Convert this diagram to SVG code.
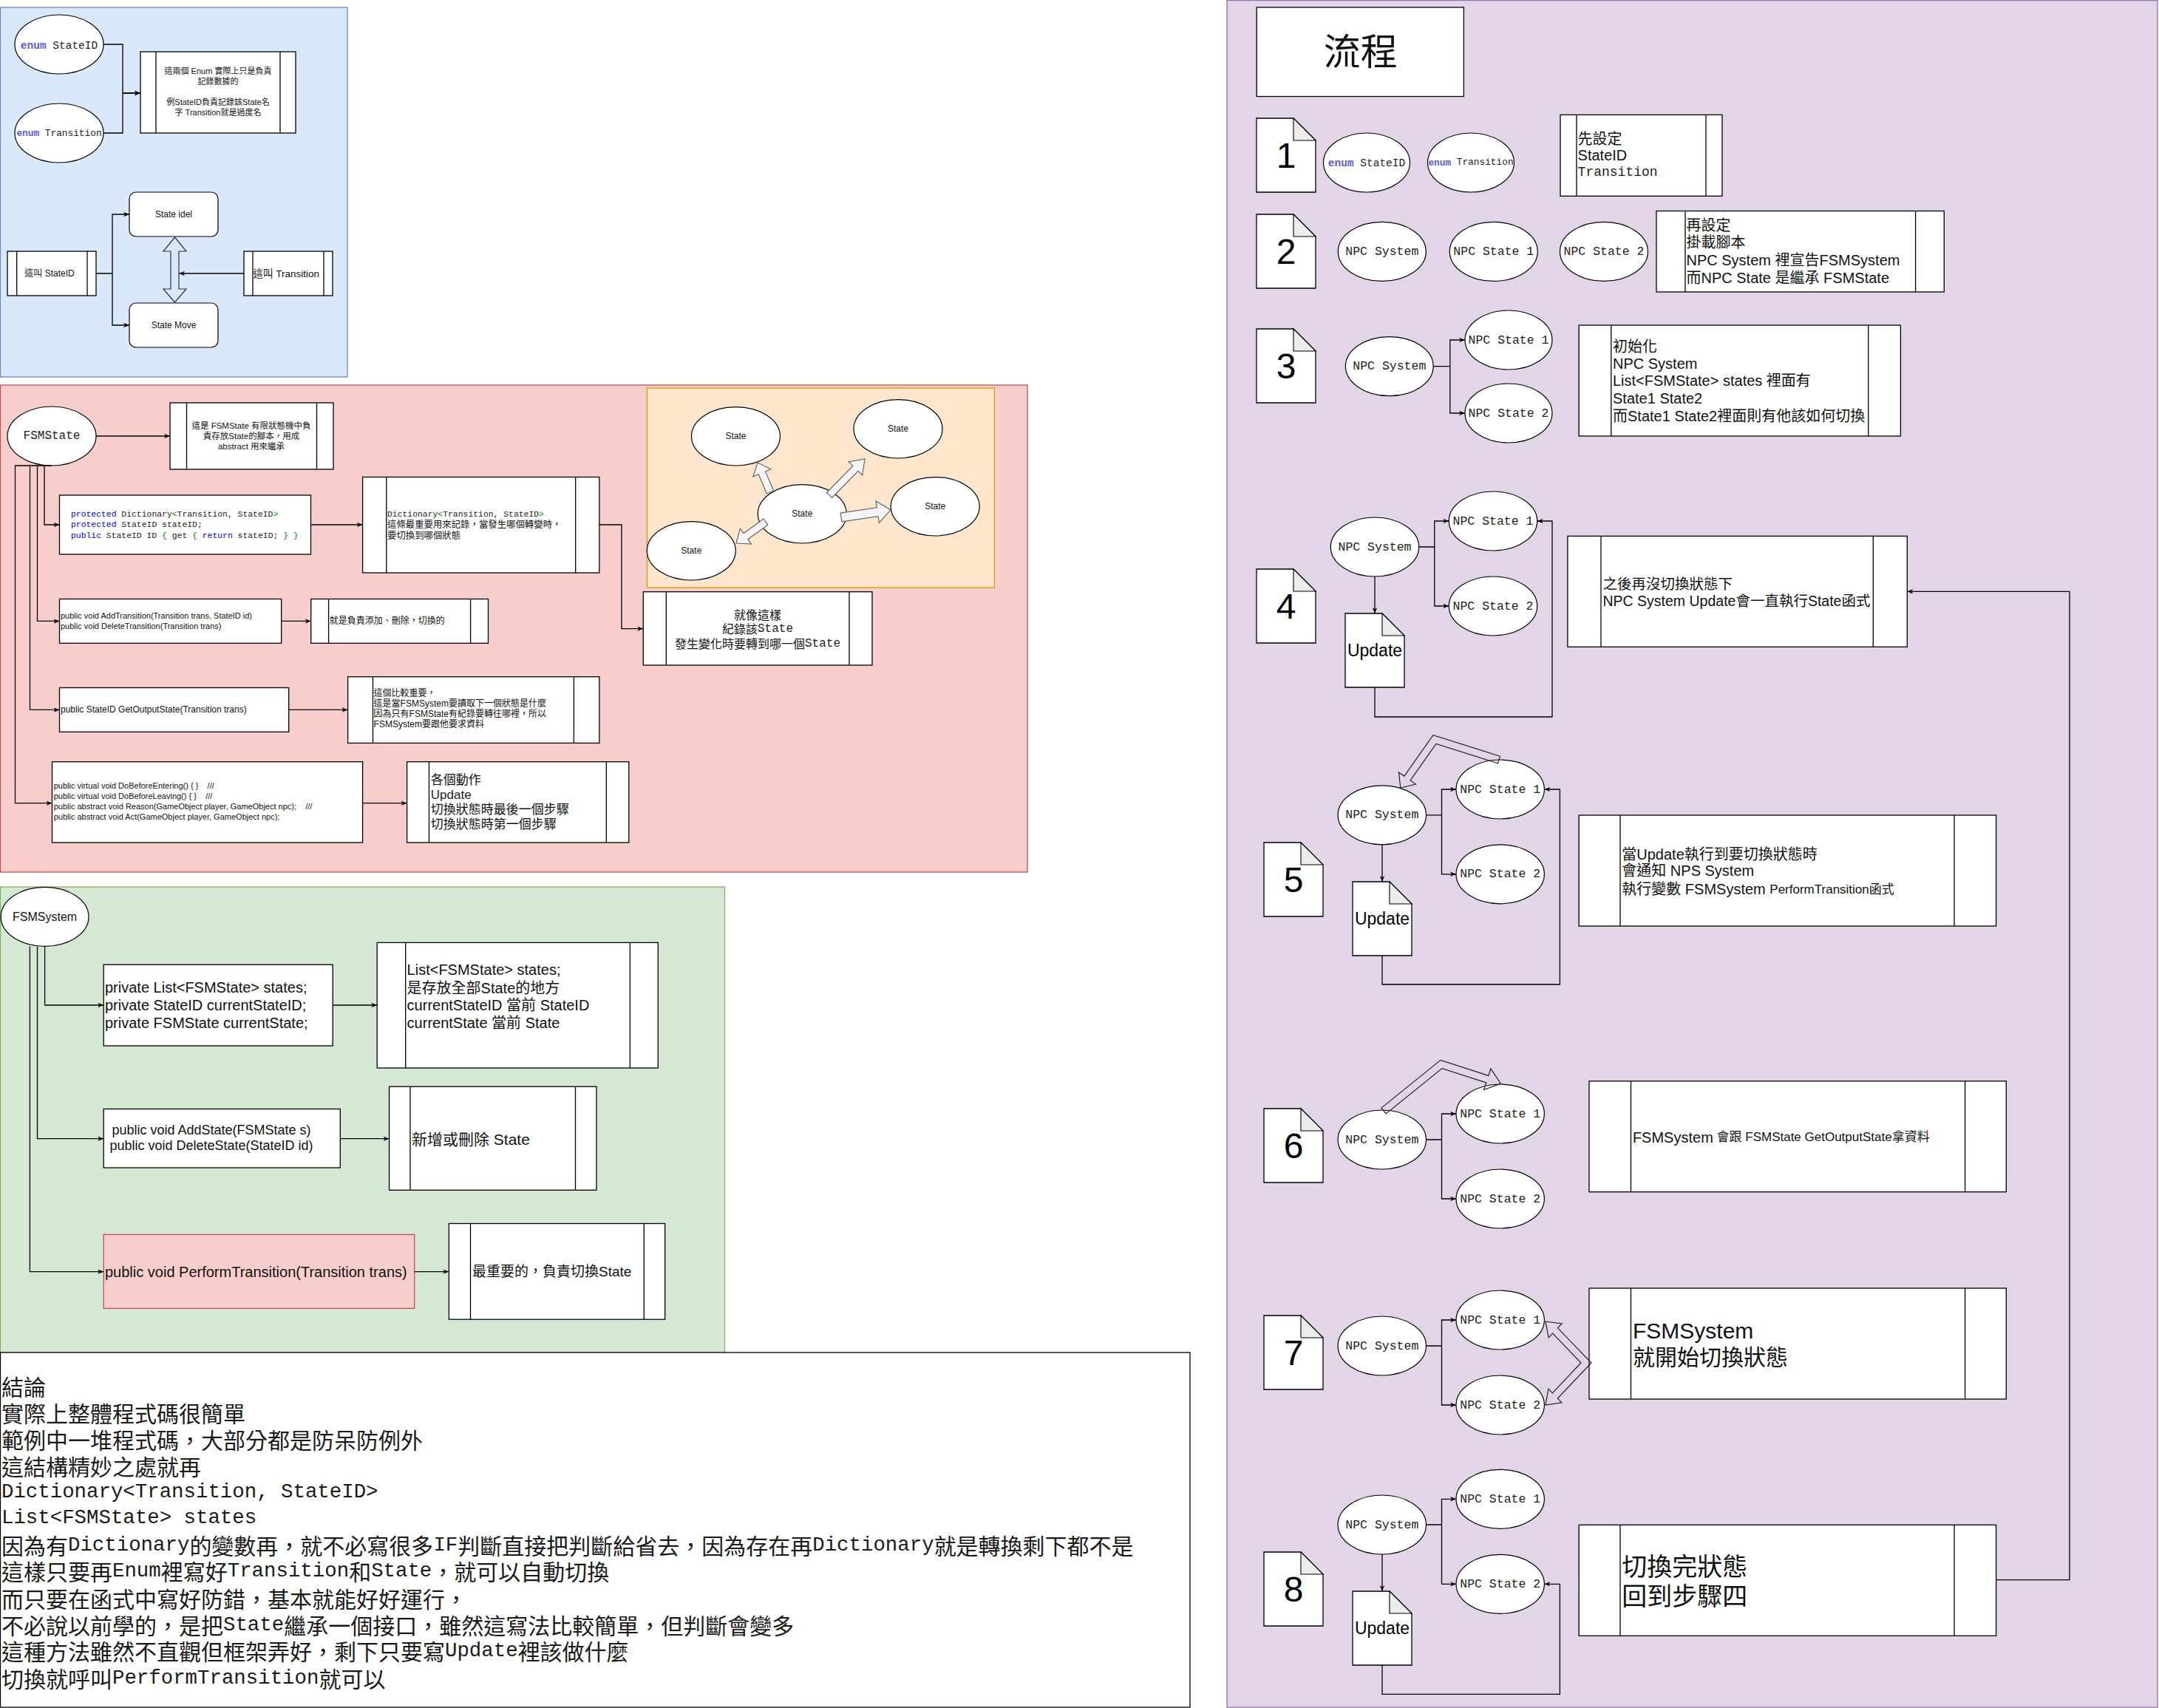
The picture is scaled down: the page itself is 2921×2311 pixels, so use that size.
<svg xmlns="http://www.w3.org/2000/svg" width="2921" height="2311" viewBox="0 0 2921 2311">
<style>
text{dominant-baseline:central}
.s{font-family:"Liberation Sans","Noto Sans CJK TC",sans-serif;fill:#111}
.m{font-family:"Liberation Mono","Noto Sans CJK TC",monospace;fill:#222}
.box{fill:#fff;stroke:#000;stroke-width:1.3}
.in{stroke:#000;stroke-width:1.3}
.ell{fill:#fff;stroke:#000;stroke-width:1.2}
.edge{fill:none;stroke:#000;stroke-width:1.3;marker-end:url(#arr)}
.line{fill:none;stroke:#000;stroke-width:1.3}
.note{fill:#fff;stroke:#000;stroke-width:1.3}
.fold{fill:#ececec;stroke:#000;stroke-width:1.1}
.barr{fill:#f5f5f5;stroke:#666;stroke-width:1.2}
.parr{fill:none;stroke:#222;stroke-width:1.2}
.kw{fill:#0000ff}
.gr{fill:#008800}
.en{fill:#5b5bd6;font-weight:bold}
.c{font-family:"Noto Sans CJK TC","Liberation Sans",sans-serif;font-size:30px;fill:#1a1a1a}
.cm{font-family:"Liberation Mono",monospace;font-size:27.4px}
.num{font-family:"Liberation Sans",sans-serif;font-size:48px;fill:#000;text-anchor:middle}
.npc{font-family:"Liberation Mono",monospace;font-size:16.5px;fill:#222;text-anchor:middle}
.upd{font-family:"Liberation Sans",sans-serif;font-size:23px;fill:#000;text-anchor:middle}
</style>
<defs>
<marker id="arr" viewBox="0 0 10 10" refX="10" refY="5" markerWidth="8" markerHeight="8" markerUnits="userSpaceOnUse" orient="auto"><path d="M0,1 L10,5 L0,9 L3,5 Z" fill="#000"/></marker>
</defs>

<g id="regions">
<rect x="0.5" y="10" width="469.5" height="500" fill="#dae8fc" stroke="#6c8ebf" stroke-width="1.3"/>
<rect x="0.5" y="521" width="1389.5" height="659" fill="#f8cecc" stroke="#b85450" stroke-width="1.3"/>
<rect x="875.5" y="525" width="470" height="270" fill="#ffe6cc" stroke="#d79b00" stroke-width="1.3"/>
<rect x="0.5" y="1200" width="980" height="630" fill="#d5e8d4" stroke="#82b366" stroke-width="1.3"/>
<rect x="1660" y="0.5" width="1259" height="2309.5" fill="#e1d5e7" stroke="#9673a6" stroke-width="1.3"/>
</g>

<!-- Blue section -->
<g id="enum-stateid"><ellipse class="ell" cx="80" cy="60" rx="60" ry="40"/><text class="m" x="80" y="62" font-size="14.5" text-anchor="middle"><tspan class="en">enum</tspan> StateID</text></g>
<g id="enum-transition"><ellipse class="ell" cx="80" cy="180" rx="60" ry="40"/><text class="m" x="80" y="180" font-size="12.8" text-anchor="middle"><tspan class="en" font-weight="normal">enum</tspan> Transition</text></g>
<g id="enum-note"><rect class="box" x="190" y="70" width="210" height="110"/><line class="in" x1="211" y1="70" x2="211" y2="180"/><line class="in" x1="379" y1="70" x2="379" y2="180"/>
<text class="s" font-size="11" text-anchor="middle"><tspan x="295" y="96">這兩個 Enum 實際上只是負責</tspan><tspan x="295" y="110">記錄數據的</tspan><tspan x="295" y="138">例StateID負責記錄該State名</tspan><tspan x="295" y="152">字 Transition就是過度名</tspan></text></g>
<g id="state-idel"><rect x="175" y="260" width="120" height="60" rx="9" fill="#fff" stroke="#000" stroke-width="1.2"/><text class="s" x="235" y="290" font-size="12" text-anchor="middle" fill="#333">State idel</text></g>
<g id="state-move"><rect x="175" y="410" width="120" height="60" rx="9" fill="#fff" stroke="#000" stroke-width="1.2"/><text class="s" x="235" y="440" font-size="12" text-anchor="middle" fill="#333">State Move</text></g>
<g id="label-stateid"><rect class="box" x="10" y="340" width="120" height="60"/><line class="in" x1="22.7" y1="340" x2="22.7" y2="400"/><line class="in" x1="118" y1="340" x2="118" y2="400"/><text class="s" x="67" y="370" font-size="12" text-anchor="middle">這叫 StateID</text></g>
<g id="label-transition"><rect class="box" x="330" y="340" width="120" height="60"/><line class="in" x1="342" y1="340" x2="342" y2="400"/><line class="in" x1="438" y1="340" x2="438" y2="400"/><text class="s" x="342.5" y="370" font-size="13.5">這叫 Transition</text></g>

<!-- Red section -->
<g id="fsmstate"><ellipse class="ell" cx="70" cy="590" rx="60" ry="40"/><text class="m" x="70" y="590" font-size="16" text-anchor="middle" fill="#333">FSMState</text></g>
<g id="fsmstate-note"><rect class="box" x="230" y="545" width="221" height="90"/><line class="in" x1="252.5" y1="545" x2="252.5" y2="635"/><line class="in" x1="428.5" y1="545" x2="428.5" y2="635"/>
<text class="s" font-size="11.5" text-anchor="middle"><tspan x="340" y="575.6">這是 FSMState 有限狀態機中負</tspan><tspan x="340" y="590">責存放State的腳本，用成</tspan><tspan x="340" y="604">abstract 用來繼承</tspan></text></g>
<g id="code-dict"><rect class="box" x="80.5" y="670" width="340" height="80"/>
<text class="m" font-size="11.4" fill="#333"><tspan x="96" y="696"><tspan class="kw">protected</tspan> Dictionary<tspan class="gr">&lt;</tspan>Transition, StateID<tspan class="gr">&gt;</tspan></tspan><tspan x="96" y="710"><tspan class="kw">protected</tspan> StateID stateID;</tspan><tspan x="96" y="724.6"><tspan class="kw">public</tspan> StateID ID <tspan class="gr">{</tspan> get <tspan class="gr">{</tspan> <tspan class="kw">return</tspan> stateID; <tspan class="gr">}</tspan> <tspan class="gr">}</tspan></tspan></text></g>
<g id="dict-note"><rect class="box" x="490.6" y="645.5" width="320.3" height="129.5"/><line class="in" x1="522.8" y1="645.5" x2="522.8" y2="775"/><line class="in" x1="778.7" y1="645.5" x2="778.7" y2="775"/>
<text class="m" x="524" y="696" font-size="11.4" fill="#333">Dictionary<tspan class="gr">&lt;</tspan>Transition, StateID<tspan class="gr">&gt;</tspan></text>
<text class="s" font-size="12.4" fill="#009900"><tspan x="524" y="710">這條最重要用來記錄，當發生哪個轉變時，</tspan><tspan x="524" y="724.6">要切換到哪個狀態</tspan></text></g>
<g id="like-this"><rect class="box" x="870.3" y="800.7" width="309.7" height="99.3"/><line class="in" x1="901.3" y1="800.7" x2="901.3" y2="900"/><line class="in" x1="1149" y1="800.7" x2="1149" y2="900"/>
<text class="s" font-size="16" text-anchor="middle" fill="#333"><tspan x="1025" y="831.7">就像這樣</tspan><tspan x="1025" y="850.7">紀錄該<tspan class="m" fill="#333">State</tspan></tspan><tspan x="1025" y="870.7">發生變化時要轉到哪一個<tspan class="m" fill="#333">State</tspan></tspan></text></g>
<g id="state-c"><ellipse class="ell" cx="1085.3" cy="695.3" rx="60" ry="39.7"/><text class="s" x="1085.3" y="695.3" font-size="12" text-anchor="middle">State</text></g>
<g id="state-1"><ellipse class="ell" cx="995.5" cy="590.3" rx="60" ry="39.7"/><text class="s" x="995.5" y="590.3" font-size="12" text-anchor="middle">State</text></g>
<g id="state-2"><ellipse class="ell" cx="1215" cy="580.3" rx="60" ry="39.7"/><text class="s" x="1215" y="580.3" font-size="12" text-anchor="middle">State</text></g>
<g id="state-3"><ellipse class="ell" cx="1265.2" cy="685.3" rx="60" ry="39.7"/><text class="s" x="1265.2" y="685.3" font-size="12" text-anchor="middle">State</text></g>
<g id="state-4"><ellipse class="ell" cx="935.3" cy="745.3" rx="60" ry="39.7"/><text class="s" x="935.3" y="745.3" font-size="12" text-anchor="middle">State</text></g>
<g id="addtrans"><rect class="box" x="80.5" y="810.5" width="300.2" height="59.8"/><text class="s" font-size="11"><tspan x="82" y="832.8">public void AddTransition(Transition trans, StateID id)</tspan><tspan x="82" y="846.7">public void DeleteTransition(Transition trans)</tspan></text></g>
<g id="addtrans-note"><rect class="box" x="420.7" y="810.5" width="239.8" height="59.8"/><line class="in" x1="444.6" y1="810.5" x2="444.6" y2="870.3"/><line class="in" x1="636.6" y1="810.5" x2="636.6" y2="870.3"/><text class="s" x="445.7" y="840.4" font-size="12">就是負責添加、刪除，切換的</text></g>
<g id="getoutput"><rect class="box" x="80.5" y="930.5" width="310.2" height="59.8"/><text class="s" x="82" y="960.4" font-size="12">public StateID GetOutputState(Transition trans)</text></g>
<g id="getoutput-note"><rect class="box" x="470.6" y="915.7" width="340.3" height="89.7"/><line class="in" x1="504.5" y1="915.7" x2="504.5" y2="1005.4"/><line class="in" x1="776.4" y1="915.7" x2="776.4" y2="1005.4"/>
<text class="s" font-size="12"><tspan x="505.6" y="938">這個比較重要，</tspan><tspan x="505.6" y="952">這是當FSMSystem要讀取下一個狀態是什麼</tspan><tspan x="505.6" y="966">因為只有FSMState有紀錄要轉往哪裡，所以</tspan><tspan x="505.6" y="980">FSMSystem要跟他要求資料</tspan></text></g>
<g id="virtuals"><rect class="box" x="70.5" y="1030.7" width="420.1" height="109.3"/><text class="s" font-size="11"><tspan x="72.7" y="1063" xml:space="preserve">public virtual void DoBeforeEntering() { }    ///</tspan><tspan x="72.7" y="1077" xml:space="preserve">public virtual void DoBeforeLeaving() { }    ///</tspan><tspan x="72.7" y="1091" xml:space="preserve">public abstract void Reason(GameObject player, GameObject npc);    ///</tspan><tspan x="72.7" y="1105">public abstract void Act(GameObject player, GameObject npc);</tspan></text></g>
<g id="virtuals-note"><rect class="box" x="550.6" y="1030.7" width="300.2" height="109.3"/><line class="in" x1="580.5" y1="1030.7" x2="580.5" y2="1140"/><line class="in" x1="820.3" y1="1030.7" x2="820.3" y2="1140"/>
<text class="s" font-size="17" fill="#444"><tspan x="582.8" y="1054.7">各個動作</tspan><tspan x="582.8" y="1074.9" fill="#222">Update</tspan><tspan x="582.8" y="1095">切換狀態時最後一個步驟</tspan><tspan x="582.8" y="1115.3">切換狀態時第一個步驟</tspan></text></g>

<!-- Green section -->
<g id="fsmsystem"><ellipse class="ell" cx="60.6" cy="1240.4" rx="59.4" ry="40"/><text class="s" x="60.6" y="1240.4" font-size="16" text-anchor="middle" fill="#222">FSMSystem</text></g>
<g id="fields"><rect class="box" x="140.2" y="1305.2" width="310" height="109.8"/><text class="s" font-size="20"><tspan x="142" y="1335.9">private List&lt;FSMState&gt; states;</tspan><tspan x="142" y="1360">private StateID currentStateID;</tspan><tspan x="142" y="1384">private FSMState currentState;</tspan></text></g>
<g id="fields-note"><rect class="box" x="510.2" y="1275.4" width="380.1" height="169.6"/><line class="in" x1="548.7" y1="1275.4" x2="548.7" y2="1445"/><line class="in" x1="852.4" y1="1275.4" x2="852.4" y2="1445"/>
<text class="s" font-size="20"><tspan x="550.6" y="1312.3">List&lt;FSMState&gt; states;</tspan><tspan x="550.6" y="1336.7">是存放全部State的地方</tspan><tspan x="550.6" y="1360.4">currentStateID 當前 StateID</tspan><tspan x="550.6" y="1384.4">currentState 當前 State</tspan></text></g>
<g id="addstate"><rect class="box" x="140.2" y="1500.5" width="320.1" height="79.5"/><text class="s" font-size="18" text-anchor="middle"><tspan x="286" y="1529">public void AddState(FSMState s)</tspan><tspan x="286" y="1549.8">public void DeleteState(StateID id)</tspan></text></g>
<g id="addstate-note"><rect class="box" x="526.6" y="1470.2" width="280.4" height="140.1"/><line class="in" x1="555" y1="1470.2" x2="555" y2="1610.3"/><line class="in" x1="778.5" y1="1470.2" x2="778.5" y2="1610.3"/><text class="s" x="557" y="1541.5" font-size="21">新增或刪除 State</text></g>
<g id="perform"><rect x="140.2" y="1670.4" width="420.5" height="99.9" fill="#f8cecc" stroke="#b85450" stroke-width="1.3"/><text class="s" x="142" y="1720.6" font-size="20">public void PerformTransition(Transition trans)</text></g>
<g id="perform-note"><rect class="box" x="607.4" y="1655.5" width="292.3" height="129.7"/><line class="in" x1="636.5" y1="1655.5" x2="636.5" y2="1785.2"/><line class="in" x1="871.3" y1="1655.5" x2="871.3" y2="1785.2"/><text class="s" x="639" y="1720.6" font-size="19">最重要的，負責切換State</text></g>

<!-- Conclusion -->
<g id="conclusion"><rect x="0.5" y="1830" width="1609.5" height="480" fill="#fff" stroke="#000" stroke-width="1.3"/>
<text class="c" x="2" y="1875">結論</text>
<text class="c" x="2" y="1911">實際上整體程式碼很簡單</text>
<text class="c" x="2" y="1947">範例中一堆程式碼，大部分都是防呆防例外</text>
<text class="c" x="2" y="1983">這結構精妙之處就再</text>
<text class="c" x="2" y="2018"><tspan class="cm">Dictionary&lt;Transition, StateID&gt;</tspan></text>
<text class="c" x="2" y="2053"><tspan class="cm">List&lt;FSMState&gt; states</tspan></text>
<text class="c" x="2" y="2090">因為有<tspan class="cm">Dictionary</tspan>的變數再，就不必寫很多<tspan class="cm">IF</tspan>判斷直接把判斷給省去，因為存在再<tspan class="cm">Dictionary</tspan>就是轉換剩下都不是</text>
<text class="c" x="2" y="2125">這樣只要再<tspan class="cm">Enum</tspan>裡寫好<tspan class="cm">Transition</tspan>和<tspan class="cm">State</tspan>，就可以自動切換</text>
<text class="c" x="2" y="2162">而只要在函式中寫好防錯，基本就能好好運行，</text>
<text class="c" x="2" y="2198">不必說以前學的，是把<tspan class="cm">State</tspan>繼承一個接口，雖然這寫法比較簡單，但判斷會變多</text>
<text class="c" x="2" y="2233">這種方法雖然不直觀但框架弄好，剩下只要寫<tspan class="cm">Update</tspan>裡該做什麼</text>
<text class="c" x="2" y="2270">切換就呼叫<tspan class="cm">PerformTransition</tspan>就可以</text>
</g>

<!-- Purple section -->
<g id="flow-title"><rect class="box" x="1700.2" y="9.9" width="280.2" height="120.6"/><text class="s" x="1840.7" y="71" font-size="50" text-anchor="middle" fill="#222">流程</text></g>

<g id="step1"><path class="note" d="M1700,160 H1750 L1780,190 V260 H1700 Z"/><path class="fold" d="M1750,160 V190 H1780 Z"/><text class="num" x="1740" y="210">1</text></g>
<g id="s1-enum-stateid"><ellipse class="ell" cx="1849" cy="220" rx="58.5" ry="40"/><text class="m" x="1849" y="221" font-size="14.5" text-anchor="middle"><tspan class="en">enum</tspan> StateID</text></g>
<g id="s1-enum-transition"><ellipse class="ell" cx="1990" cy="220" rx="58.5" ry="40"/><text class="m" x="1990" y="219.5" font-size="12.8" text-anchor="middle"><tspan class="en" font-weight="normal">enum</tspan> Transition</text></g>
<g id="s1-note"><rect class="box" x="2111" y="155.4" width="219" height="109.9"/><line class="in" x1="2133" y1="155.4" x2="2133" y2="265.3"/><line class="in" x1="2308" y1="155.4" x2="2308" y2="265.3"/>
<text class="s" font-size="20"><tspan x="2134.6" y="187.8">先設定</tspan><tspan x="2134.6" y="210.3">StateID</tspan></text><text class="m" x="2134.6" y="233.3" font-size="18" fill="#111">Transition</text></g>

<g id="step2"><path class="note" d="M1700,290 H1750 L1780,320 V390 H1700 Z"/><path class="fold" d="M1750,290 V320 H1780 Z"/><text class="num" x="1740" y="340">2</text></g>
<g id="s2-system"><ellipse class="ell" cx="1869.8" cy="340.4" rx="59.5" ry="40"/><text class="npc" x="1869.8" y="340.4">NPC System</text></g>
<g id="s2-state1"><ellipse class="ell" cx="2020.8" cy="340.4" rx="59.5" ry="40"/><text class="npc" x="2020.8" y="340.4">NPC State 1</text></g>
<g id="s2-state2"><ellipse class="ell" cx="2170" cy="340.4" rx="59.5" ry="40"/><text class="npc" x="2170" y="340.4">NPC State 2</text></g>
<g id="s2-note"><rect class="box" x="2241" y="285.5" width="389.3" height="109.5"/><line class="in" x1="2280" y1="285.5" x2="2280" y2="395"/><line class="in" x1="2591.6" y1="285.5" x2="2591.6" y2="395"/>
<text class="s" font-size="20"><tspan x="2281.5" y="304.5">再設定</tspan><tspan x="2281.5" y="328">掛載腳本</tspan><tspan x="2281.5" y="352">NPC System 裡宣告FSMSystem</tspan><tspan x="2281.5" y="375.6">而NPC State 是繼承 FSMState</tspan></text></g>

<g id="step3"><path class="note" d="M1700,445 H1750 L1780,475 V545 H1700 Z"/><path class="fold" d="M1750,445 V475 H1780 Z"/><text class="num" x="1740" y="495">3</text></g>
<g id="s3-system"><ellipse class="ell" cx="1879.8" cy="495.6" rx="59.4" ry="40"/><text class="npc" x="1879.8" y="495.6">NPC System</text></g>
<g id="s3-state1"><ellipse class="ell" cx="2041" cy="460" rx="59" ry="40"/><text class="npc" x="2041" y="460">NPC State 1</text></g>
<g id="s3-state2"><ellipse class="ell" cx="2041" cy="559" rx="59" ry="40"/><text class="npc" x="2041" y="559">NPC State 2</text></g>
<g id="s3-note"><rect class="box" x="2136.2" y="440" width="435.2" height="150"/><line class="in" x1="2179.8" y1="440" x2="2179.8" y2="590"/><line class="in" x1="2527.8" y1="440" x2="2527.8" y2="590"/>
<text class="s" font-size="20"><tspan x="2182" y="468.5">初始化</tspan><tspan x="2182" y="491.5">NPC System</tspan><tspan x="2182" y="515.2">List&lt;FSMState&gt; states 裡面有</tspan><tspan x="2182" y="538.5">State1 State2</tspan><tspan x="2182" y="563.4">而State1 State2裡面則有他該如何切換</tspan></text></g>

<g id="step4"><path class="note" d="M1700,770 H1750 L1780,800 V870 H1700 Z"/><path class="fold" d="M1750,770 V800 H1780 Z"/><text class="num" x="1740" y="820">4</text></g>
<g id="s4-system"><ellipse class="ell" cx="1860" cy="740" rx="59.75" ry="40"/><text class="npc" x="1860" y="740">NPC System</text></g>
<g id="s4-state1"><ellipse class="ell" cx="2020" cy="705" rx="59.75" ry="40"/><text class="npc" x="2020" y="705">NPC State 1</text></g>
<g id="s4-state2"><ellipse class="ell" cx="2020" cy="820" rx="59.75" ry="40"/><text class="npc" x="2020" y="820">NPC State 2</text></g>
<g id="s4-update"><path class="note" d="M1820,830 H1870 L1900,860 V930 H1820 Z"/><path class="fold" d="M1870,830 V860 H1900 Z"/><text class="upd" x="1860" y="880">Update</text></g>
<g id="s4-note"><rect class="box" x="2120.9" y="725.4" width="459.4" height="149.9"/><line class="in" x1="2166" y1="725.4" x2="2166" y2="875.3"/><line class="in" x1="2534.3" y1="725.4" x2="2534.3" y2="875.3"/>
<text class="s" font-size="19.5"><tspan x="2168.5" y="789.6">之後再沒切換狀態下</tspan><tspan x="2168.5" y="813.3">NPC System Update會一直執行State函式</tspan></text></g>

<g id="step5"><path class="note" d="M1710,1140 H1760 L1790,1170 V1240 H1710 Z"/><path class="fold" d="M1760,1140 V1170 H1790 Z"/><text class="num" x="1750" y="1190">5</text></g>
<g id="s5-system"><ellipse class="ell" cx="1869.8" cy="1102.8" rx="59.7" ry="40"/><text class="npc" x="1869.8" y="1102.8">NPC System</text></g>
<g id="s5-state1"><ellipse class="ell" cx="2029.7" cy="1068" rx="59.7" ry="40"/><text class="npc" x="2029.7" y="1068">NPC State 1</text></g>
<g id="s5-state2"><ellipse class="ell" cx="2029.7" cy="1182.8" rx="59.7" ry="40"/><text class="npc" x="2029.7" y="1182.8">NPC State 2</text></g>
<g id="s5-update"><path class="note" d="M1830,1193 H1880 L1910,1223 V1293 H1830 Z"/><path class="fold" d="M1880,1193 V1223 H1910 Z"/><text class="upd" x="1870" y="1243">Update</text></g>
<g id="s5-note"><rect class="box" x="2136.2" y="1103" width="564.4" height="150"/><line class="in" x1="2192" y1="1103" x2="2192" y2="1253"/><line class="in" x1="2644" y1="1103" x2="2644" y2="1253"/>
<text class="s" font-size="20"><tspan x="2194.3" y="1155.7">當Update執行到要切換狀態時</tspan><tspan x="2194.3" y="1178">會通知 NPS System</tspan><tspan x="2194.3" y="1202.5">執行變數 FSMSystem <tspan font-size="17">PerformTransition函式</tspan></tspan></text></g>

<g id="step6"><path class="note" d="M1710,1500 H1760 L1790,1530 V1600 H1710 Z"/><path class="fold" d="M1760,1500 V1530 H1790 Z"/><text class="num" x="1750" y="1550">6</text></g>
<g id="s6-system"><ellipse class="ell" cx="1869.8" cy="1542" rx="59.7" ry="40"/><text class="npc" x="1869.8" y="1542">NPC System</text></g>
<g id="s6-state1"><ellipse class="ell" cx="2029.7" cy="1507" rx="59.7" ry="40"/><text class="npc" x="2029.7" y="1507">NPC State 1</text></g>
<g id="s6-state2"><ellipse class="ell" cx="2029.7" cy="1622" rx="59.7" ry="40"/><text class="npc" x="2029.7" y="1622">NPC State 2</text></g>
<g id="s6-note"><rect class="box" x="2150" y="1462.8" width="564.3" height="149.9"/><line class="in" x1="2206.5" y1="1462.8" x2="2206.5" y2="1612.7"/><line class="in" x1="2658.6" y1="1462.8" x2="2658.6" y2="1612.7"/>
<text class="s" x="2208.9" y="1538.5" font-size="17"><tspan font-size="20">FSMSystem</tspan> 會跟 FSMState GetOutputState拿資料</text></g>

<g id="step7"><path class="note" d="M1710,1780 H1760 L1790,1810 V1880 H1710 Z"/><path class="fold" d="M1760,1780 V1810 H1790 Z"/><text class="num" x="1750" y="1830">7</text></g>
<g id="s7-system"><ellipse class="ell" cx="1869.8" cy="1821" rx="59.7" ry="40"/><text class="npc" x="1869.8" y="1821">NPC System</text></g>
<g id="s7-state1"><ellipse class="ell" cx="2029.7" cy="1786" rx="59.7" ry="40"/><text class="npc" x="2029.7" y="1786">NPC State 1</text></g>
<g id="s7-state2"><ellipse class="ell" cx="2029.7" cy="1901" rx="59.7" ry="40"/><text class="npc" x="2029.7" y="1901">NPC State 2</text></g>
<g id="s7-note"><rect class="box" x="2150" y="1743" width="564.3" height="150"/><line class="in" x1="2206.5" y1="1743" x2="2206.5" y2="1893"/><line class="in" x1="2658.6" y1="1743" x2="2658.6" y2="1893"/>
<text class="s" font-size="30"><tspan x="2209" y="1800">FSMSystem</tspan><tspan x="2209" y="1836">就開始切換狀態</tspan></text></g>

<g id="step8"><path class="note" d="M1710,2100 H1760 L1790,2130 V2200 H1710 Z"/><path class="fold" d="M1760,2100 V2130 H1790 Z"/><text class="num" x="1750" y="2150">8</text></g>
<g id="s8-system"><ellipse class="ell" cx="1869.8" cy="2063" rx="59.7" ry="40"/><text class="npc" x="1869.8" y="2063">NPC System</text></g>
<g id="s8-state1"><ellipse class="ell" cx="2029.7" cy="2028.3" rx="59.7" ry="40"/><text class="npc" x="2029.7" y="2028.3">NPC State 1</text></g>
<g id="s8-state2"><ellipse class="ell" cx="2029.7" cy="2143.3" rx="59.7" ry="40"/><text class="npc" x="2029.7" y="2143.3">NPC State 2</text></g>
<g id="s8-update"><path class="note" d="M1830,2153 H1880 L1910,2183 V2253 H1830 Z"/><path class="fold" d="M1880,2153 V2183 H1910 Z"/><text class="upd" x="1870" y="2203">Update</text></g>
<g id="s8-note"><rect class="box" x="2136.2" y="2063.3" width="564.4" height="150"/><line class="in" x1="2192" y1="2063.3" x2="2192" y2="2213.3"/><line class="in" x1="2644" y1="2063.3" x2="2644" y2="2213.3"/>
<text class="s" font-size="34" fill="#333"><tspan x="2194.3" y="2120">切換完狀態</tspan><tspan x="2194.3" y="2160">回到步驟四</tspan></text></g>

<g id="connectors">
<!-- blue -->
<path class="edge" d="M140,60 H166 V126 H190"/>
<path class="edge" d="M140,180 H166 V126 H190"/>
<path class="edge" d="M130,370 H152 V290 H175"/>
<path class="edge" d="M152,370 V440 H175"/>
<path class="edge" d="M330,370 H242"/>
<polygon fill="#dae8fc" stroke="#333" stroke-width="1.2" points="236.5,321 252,340 242,340 242,391 252,391 236.5,409 221,391 231,391 231,340 221,340"/>
<!-- red -->
<path class="edge" d="M130,590 H230"/>
<path class="edge" d="M420.7,710 H490.6"/>
<path class="edge" d="M810.9,710 H841 V850.7 H870.3"/>
<path class="edge" d="M380.7,840.4 H420.7"/>
<path class="edge" d="M390.7,960.4 H470.6"/>
<path class="edge" d="M490.6,1086.7 H550.6"/>
<path class="edge" d="M60,630 V710 H80.5"/>
<path class="edge" d="M50.5,630 V840.4 H80.5"/>
<path class="edge" d="M40.5,630 V960.4 H80.5"/>
<path class="edge" d="M70,630 H20.5 V1086.7 H70.5"/>
<polygon class="barr" points="1046.6,664 1035.5,637.9 1042.9,634.7 1025,626 1018.9,644.9 1026.3,641.8 1037.4,668"/>
<polygon class="barr" points="1125.6,673.5 1161,637.4 1166.7,643 1170,621 1148.1,624.8 1153.8,630.4 1118.4,666.5"/>
<polygon class="barr" points="1138.9,705.9 1188.1,698.6 1189.4,707.5 1205,690 1185,677.9 1186.3,686.8 1137.1,694.1"/>
<polygon class="barr" points="1033.1,702 1006.1,721.6 1001.4,715.1 996,735 1016.6,736.1 1011.9,729.7 1038.9,710.1"/>
<!-- green -->
<path class="edge" d="M450.2,1360 H510.2"/>
<path class="edge" d="M460.3,1540.7 H526.6"/>
<path class="edge" d="M560.7,1720.6 H607.4"/>
<path class="edge" d="M60.6,1280.4 V1360 H140.2"/>
<path class="edge" d="M50.5,1280.4 V1540.7 H140.2"/>
<path class="edge" d="M40.4,1280.4 V1720.6 H140.2"/>
<!-- purple -->
<path class="edge" d="M1939.2,495.6 H1961.8 V460 H1982"/>
<path class="edge" d="M1961.8,495.6 V559 H1982"/>
<path class="edge" d="M1919.8,740 H1940.8 V705 H1960.3"/>
<path class="edge" d="M1940.8,740 V820 H1960.3"/>
<path class="edge" d="M1860,780 V830"/>
<path class="edge" d="M1860,930 V970 H2100 V705 H2079.8"/>
<path class="edge" d="M1929.5,1102.8 H1950.5 V1068 H1970"/>
<path class="edge" d="M1950.5,1102.8 V1182.8 H1970"/>
<path class="edge" d="M1870,1142.8 V1193"/>
<path class="edge" d="M1870,1293 V1332 H2110.4 V1068 H2089.4"/>
<polygon class="parr" points="2029.5,1023.2 1939,994.6 1899.9,1050.1 1892.5,1044.9 1894.8,1066.1 1915.5,1061.1 1908.1,1055.9 1943,1006.4 2026.5,1032.8"/>
<path class="edge" d="M1929.5,1542 H1950.5 V1507 H1970"/>
<path class="edge" d="M1950.5,1542 V1622 H1970"/>
<polygon class="parr" points="1868.9,1499.1 1949,1434.4 2013.8,1455.4 2016.9,1445.9 2030.4,1466.1 2007.7,1474.5 2010.8,1465 1951,1445.6 1875.1,1506.9"/>
<path class="edge" d="M1929.5,1821 H1950.5 V1786 H1970"/>
<path class="edge" d="M1950.5,1821 V1901 H1970"/>
<polygon class="parr" points="2091,1788 2113.1,1791 2107.5,1796.8 2153,1844 2107.4,1892.1 2112.9,1897.8 2091,1901 2094.9,1879.2 2100.4,1884.9 2139,1844 2100.7,1804 2095.1,1809.8"/>
<path class="edge" d="M1929.5,2063 H1950.5 V2028.3 H1970"/>
<path class="edge" d="M1950.5,2063 V2143.3 H1970"/>
<path class="edge" d="M1870,2103 V2153"/>
<path class="edge" d="M1870,2253 V2292.3 H2110.4 V2143.3 H2089.4"/>
<path class="edge" d="M2700.6,2137.7 H2800 V800.3 H2580.3"/>
</g>
</svg>
